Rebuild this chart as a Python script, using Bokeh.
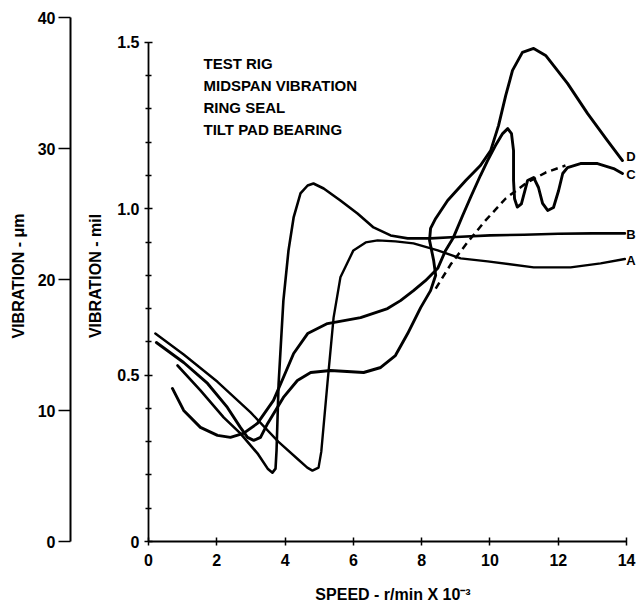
from bokeh.plotting import figure
from bokeh.models import Range1d, FixedTicker, Label
from bokeh.layouts import row
from bokeh.embed import file_html
from bokeh.resources import INLINE

# ---------------- data ----------------
speed_ticks = [0, 2, 4, 6, 8, 10, 12, 14]
mil_ticks = [0, 0.5, 1.0, 1.5]
mil_tick_labels = ["0", "0.5", "1.0", "1.5"]
mil_minor = [0.1, 0.2, 0.3, 0.4, 0.6, 0.7, 0.8, 0.9, 1.1, 1.2, 1.3, 1.4]
um_ticks = [0, 10, 20, 30, 40]

notes = ["TEST RIG", "MIDSPAN VIBRATION", "RING SEAL", "TILT PAD BEARING"]
curve_names = ["A", "B", "C", "D"]

# curve A (speed in r/min x 1e-3, vibration in mil)
a_x = [0.20, 1.03, 2.02, 2.99, 3.80, 4.40, 4.65, 4.80, 4.98, 5.06, 5.24, 5.42, 5.62,
       6.00, 6.36, 6.71, 7.23, 7.76, 8.47, 9.14, 9.93, 11.28, 12.36, 13.24, 13.95]
a_y = [0.625, 0.562, 0.480, 0.388, 0.300, 0.245, 0.222, 0.213, 0.222, 0.270, 0.475, 0.673, 0.794,
       0.875, 0.899, 0.905, 0.902, 0.896, 0.875, 0.851, 0.842, 0.824, 0.824, 0.836, 0.849]

# curve B
b_x = [0.85, 1.52, 2.20, 2.69, 3.19, 3.49, 3.63, 3.72, 3.75, 3.81, 3.95, 4.10, 4.25, 4.45,
       4.66, 4.83, 5.13, 5.62, 6.12, 6.59, 7.09, 7.59, 8.26, 9.00, 10.0, 11.0, 12.0, 13.0, 13.95]
b_y = [0.529, 0.454, 0.373, 0.325, 0.265, 0.219, 0.207, 0.219, 0.274, 0.475, 0.724, 0.875, 0.974, 1.046,
       1.070, 1.076, 1.061, 1.025, 0.986, 0.944, 0.920, 0.911, 0.911, 0.915, 0.920, 0.922, 0.925, 0.926, 0.926]

# curve C
c_x = [0.70, 1.03, 1.52, 2.02, 2.40, 2.78, 3.19, 3.66, 3.95, 4.25, 4.66, 5.24, 6.21, 7.00, 7.38,
       7.76, 8.11, 8.47, 8.70, 8.93, 9.20, 9.43, 9.72, 9.93, 10.16, 10.37, 10.52, 10.63, 10.69,
       10.69, 10.72, 10.80, 10.92, 11.10, 11.28, 11.42, 11.54, 11.69, 11.86, 12.01, 12.13, 12.27,
       12.65, 13.15, 13.62, 13.88]
c_y = [0.460, 0.394, 0.343, 0.319, 0.313, 0.325, 0.355, 0.424, 0.493, 0.565, 0.625, 0.655, 0.673, 0.700, 0.724,
       0.754, 0.784, 0.821, 0.875, 0.914, 0.980, 1.034, 1.100, 1.145, 1.190, 1.226, 1.241, 1.226, 1.175,
       1.085, 1.030, 1.005, 1.015, 1.085, 1.094, 1.064, 1.016, 0.995, 1.004, 1.055, 1.106, 1.124,
       1.136, 1.136, 1.121, 1.106]

# curve D
d_x = [0.23, 1.03, 1.73, 2.31, 2.69, 2.90, 3.08, 3.28, 3.49, 3.95, 4.36, 4.75, 5.33, 6.30, 6.80,
       7.23, 7.59, 7.97, 8.26, 8.41, 8.35, 8.23, 8.26, 8.41, 8.76, 9.29, 9.72, 10.02, 10.25, 10.46,
       10.66, 10.95, 11.28, 11.63, 12.27, 12.86, 13.44, 13.88]
d_y = [0.598, 0.538, 0.475, 0.403, 0.343, 0.313, 0.304, 0.313, 0.355, 0.433, 0.484, 0.508, 0.514, 0.508, 0.523,
       0.559, 0.625, 0.703, 0.754, 0.800, 0.845, 0.905, 0.941, 0.971, 1.025, 1.085, 1.130, 1.175, 1.250, 1.340,
       1.416, 1.470, 1.482, 1.461, 1.377, 1.286, 1.205, 1.145]

# dashed curve
e_x = [8.41, 8.85, 9.34, 9.87, 10.46, 11.04, 11.63, 12.21]
e_y = [0.760, 0.833, 0.899, 0.965, 1.031, 1.076, 1.109, 1.130]

MIL_TO_UM = 25.4
Y_TOP = 1.596
X_END = 14.32

FONT = "Liberation Sans"
H = 609
TOP = 10
BOTTOM = 68

# ---------------- outer micrometre axis (narrow figure) ----------------
f1 = figure(width=72, height=H, x_range=Range1d(0, 1), y_range=Range1d(0, Y_TOP * MIL_TO_UM),
            min_border_left=70, min_border_right=0, min_border_top=TOP, min_border_bottom=BOTTOM,
            toolbar_location=None, output_backend="svg")
f1.xaxis.visible = False
f1.grid.visible = False
f1.outline_line_color = None
ax = f1.yaxis[0]
ax.ticker = FixedTicker(ticks=um_ticks)
ax.bounds = (0, 40)
ax.axis_line_width = 2
ax.axis_line_color = "black"
ax.major_tick_out = 12
ax.major_tick_in = 0
ax.major_tick_line_width = 1.5
ax.minor_tick_line_color = None
ax.major_label_text_font = FONT
ax.major_label_text_font_style = "bold"
ax.major_label_text_font_size = "16px"
ax.major_label_text_color = "black"
ax.major_label_standoff = 3
ax.axis_label = "VIBRATION - \u03bcm"
ax.axis_label_text_font = FONT
ax.axis_label_text_font_style = "bold"
ax.axis_label_text_font_size = "16px"
ax.axis_label_text_color = "black"
ax.axis_label_standoff = 8

# ---------------- main plot ----------------
p = figure(width=565, height=H, x_range=Range1d(0, X_END), y_range=Range1d(0, Y_TOP),
           min_border_left=76, min_border_right=0, min_border_top=TOP, min_border_bottom=BOTTOM,
           toolbar_location=None, output_backend="svg")
p.grid.visible = False
p.outline_line_color = None

xa = p.xaxis[0]
xa.ticker = FixedTicker(ticks=speed_ticks)
xa.bounds = (0, 14)
ya = p.yaxis[0]
ya.ticker = FixedTicker(ticks=mil_ticks, minor_ticks=mil_minor)
ya.bounds = (0, 1.5)
ya.major_label_overrides = {t: s for t, s in zip(mil_ticks, mil_tick_labels)}

for a in (xa, ya):
    a.axis_line_width = 1.8
    a.axis_line_color = "black"
    a.major_tick_in = 4
    a.major_tick_out = 4
    a.major_tick_line_width = 1.5
    a.major_label_text_font = FONT
    a.major_label_text_font_style = "bold"
    a.major_label_text_font_size = "16px"
    a.major_label_text_color = "black"
    a.axis_label_text_font = FONT
    a.axis_label_text_font_style = "bold"
    a.axis_label_text_font_size = "16px"
    a.axis_label_text_color = "black"

xa.minor_tick_line_color = None
xa.major_label_standoff = 8
xa.axis_label = "SPEED - r/min X 10\u207b\u00b3"
xa.axis_label_standoff = 17

ya.minor_tick_in = 3
ya.minor_tick_out = 3
ya.minor_tick_line_width = 1.5
ya.minor_tick_line_color = "black"
ya.major_label_standoff = 5
ya.axis_label = "VIBRATION - mil"
ya.axis_label_standoff = 10

lw = 2.9
p.line(a_x, a_y, line_color="black", line_width=2.4, line_join="round", line_cap="round")
p.line(b_x, b_y, line_color="black", line_width=2.6, line_join="round", line_cap="round")
p.line(c_x, c_y, line_color="black", line_width=lw, line_join="round", line_cap="round")
p.line(d_x, d_y, line_color="black", line_width=lw, line_join="round", line_cap="round")
p.line(e_x, e_y, line_color="black", line_width=2.5, line_dash="7 5")

# text block
for i, t in enumerate(notes):
    p.add_layout(Label(x=1.61, y=1.437 - i * 0.066, text=t, text_font=FONT, text_font_style="bold",
                       text_font_size="15px", text_color="black", text_baseline="alphabetic"))

# curve end labels, placed just right of each curve's last point
ends = {"A": (a_x[-1], a_y[-1]), "B": (b_x[-1], b_y[-1]), "C": (c_x[-1], c_y[-1]), "D": (d_x[-1], d_y[-1])}
for t in curve_names:
    ex, ey = ends[t]
    p.add_layout(Label(x=13.99, y=ey + (0.012 if t == "D" else -0.004), text=t, text_font=FONT,
                       text_font_style="bold", text_font_size="13px", text_color="black",
                       text_baseline="middle"))

layout = row(f1, p)
open("out.html", "w").write(file_html(layout, INLINE))
